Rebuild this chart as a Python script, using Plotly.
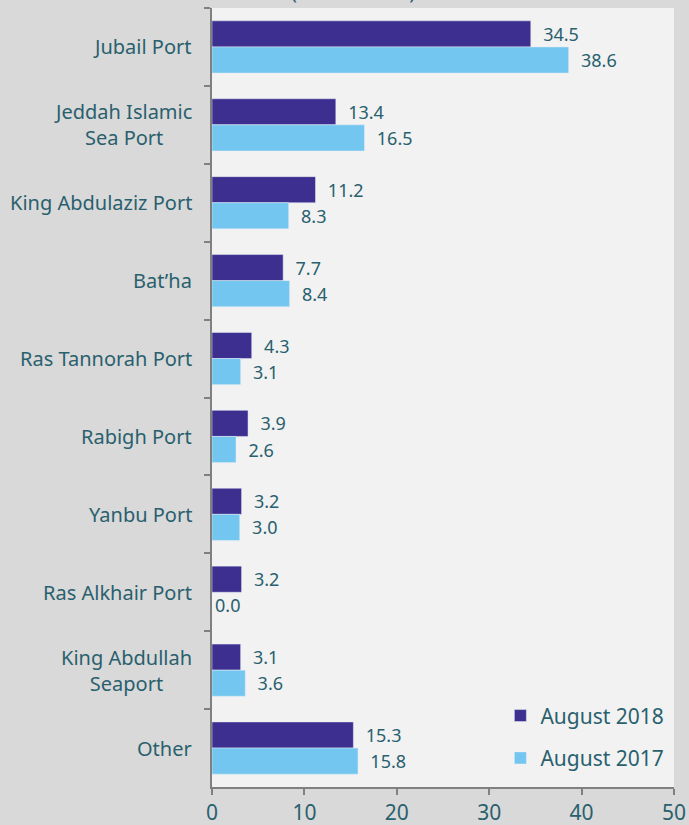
import plotly.graph_objects as go

categories = ["Jubail Port", "Jeddah Islamic<br>Sea Port", "King Abdulaziz Port", "Bat\u2019ha",
              "Ras Tannorah Port", "Rabigh Port", "Yanbu Port", "Ras Alkhair Port",
              "King Abdullah<br>Seaport", "Other"]
aug_2018 = [34.5, 13.4, 11.2, 7.7, 4.3, 3.9, 3.2, 3.2, 3.1, 15.3]
aug_2017 = [38.6, 16.5, 8.3, 8.4, 3.1, 2.6, 3.0, 0.0, 3.6, 15.8]
x_ticks = [0, 10, 20, 30, 40, 50]

TEXT = "#29606e"
FONT = "Noto Sans"
NB = "\u00a0\u00a0"


def labels(vals):
    return [(NB if v > 0 else "") + f"{v:.1f}" for v in vals]


fig = go.Figure()
fig.add_trace(go.Bar(
    y=categories, x=aug_2018, orientation="h", name="August 2018", legendgroup="a",
    marker_color="#3d2f8f", text=labels(aug_2018),
    textposition="outside", textfont=dict(color=TEXT, size=18, family=FONT),
    cliponaxis=False,
))
fig.add_trace(go.Bar(
    y=categories, x=aug_2017, orientation="h", name="August 2017", legendgroup="b",
    marker_color="#72c6ef", text=labels(aug_2017),
    textposition="outside", textfont=dict(color=TEXT, size=18, family=FONT),
    cliponaxis=False,
))

# category labels as centred annotations
for c in categories:
    fig.add_annotation(x=0, xref="paper", y=c, yref="y", text=c, showarrow=False,
                       xanchor="right", align="center", xshift=-18,
                       font=dict(size=20, color=TEXT, family=FONT))

# cropped chart title at the very top (only its lowest edge is visible)
fig.add_annotation(x=0.305, xref="paper", xanchor="center", y=1, yref="paper",
                   yanchor="bottom", yshift=1, text="(Million Tons)", showarrow=False,
                   font=dict(size=20, color=TEXT, family=FONT))

fig.update_layout(
    width=689, height=825,
    paper_bgcolor="#d9d9d9", plot_bgcolor="#f2f2f2",
    margin=dict(l=212, r=15, t=8, b=38, autoexpand=False),
    barmode="group", bargap=0.33, bargroupgap=0,
    font=dict(family=FONT, color=TEXT, size=18),
    showlegend=True,
    legend=dict(x=0.99, y=0.011, xanchor="right", yanchor="bottom",
                bgcolor="rgba(0,0,0,0)", font=dict(size=21, color=TEXT),
                tracegroupgap=12, itemwidth=30),
    xaxis=dict(range=[0, 50], tickvals=x_ticks, showgrid=False, zeroline=False,
               ticks="outside", ticklen=6, tickcolor="#808080", tickwidth=2,
               showline=True, linecolor="#808080", linewidth=2, automargin=False,
               tickfont=dict(size=21, color=TEXT)),
    yaxis=dict(autorange="reversed", showgrid=False, ticks="outside",
               tickson="boundaries", ticklen=6, tickcolor="#808080", tickwidth=2,
               showline=True, linecolor="#808080", linewidth=2,
               showticklabels=False, automargin=False),
)

fig.write_html("out.html", config={"displayModeBar": False},
               post_script="document.body.style.margin='0';document.body.style.overflow='hidden';")
